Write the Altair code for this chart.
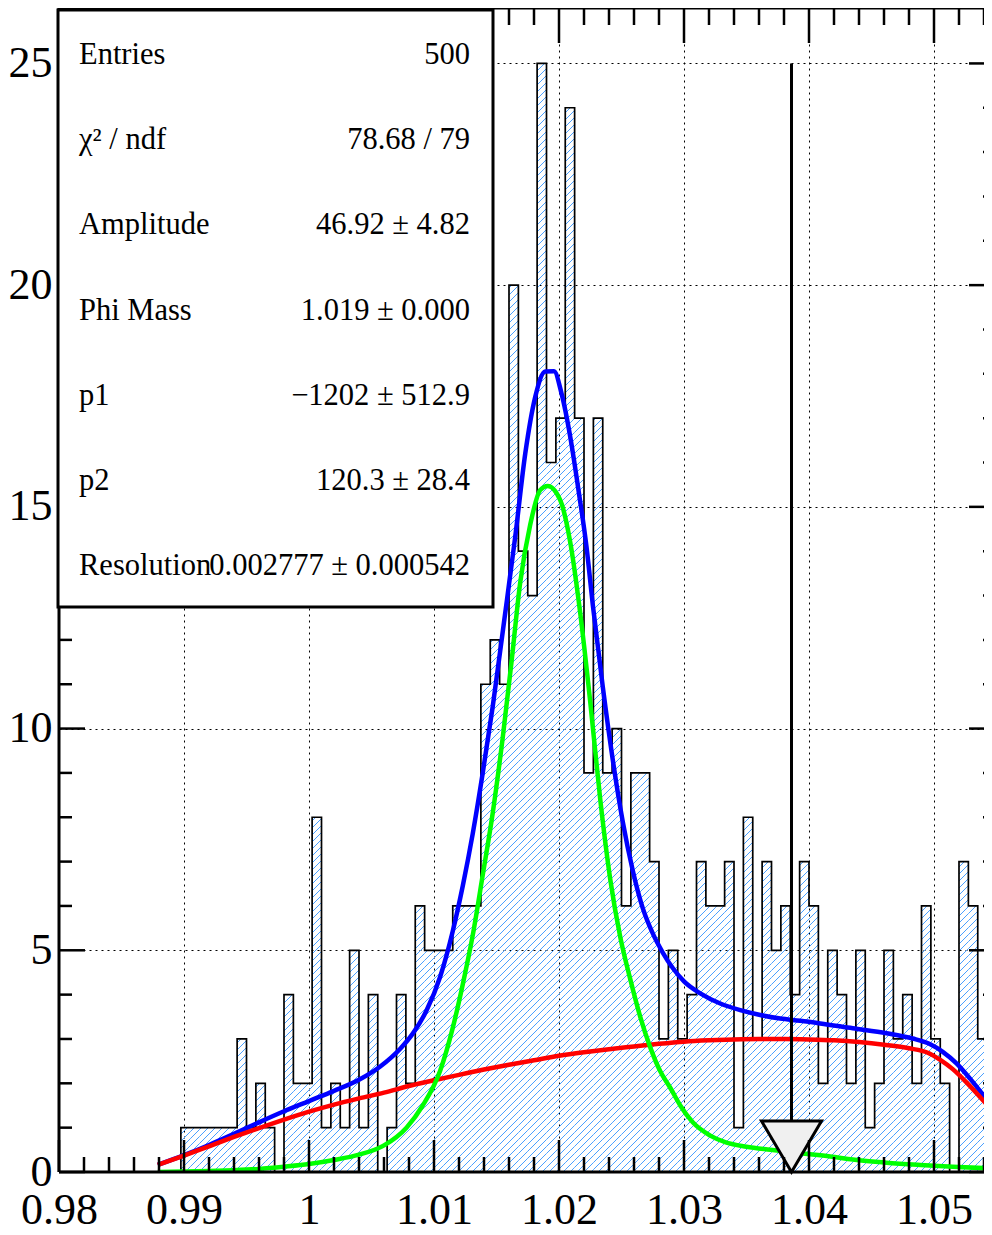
import altair as alt
import numpy as np
import pandas as pd

# ---------------- data ----------------
hist_xmin = 0.98
hist_xmax = 1.055
hist_nbins = 100
first_filled_bin = 13
bin_counts = [1, 1, 1, 1, 1, 1, 3, 1, 2, 1,
              0, 4, 2, 2, 8, 1, 2, 1, 5, 1,
              4, 0, 1, 4, 2, 6, 5, 5, 5, 6,
              6, 6, 11, 12, 11, 20, 14, 13, 25, 16,
              17, 24, 17, 9, 17, 9, 10, 6, 9, 9,
              7, 3, 5, 3, 4, 7, 6, 6, 7, 1,
              8, 3, 7, 5, 6, 4, 7, 6, 2, 5,
              4, 2, 5, 1, 2, 5, 3, 4, 2, 6,
              3, 2, 0, 7, 6, 3, 5]

blue_x = [0.9879, 0.9900, 0.9920, 0.9940, 0.9960, 0.9980, 1.0000, 1.0020, 1.0040, 1.0057,
          1.0073, 1.0083, 1.0094, 1.0105, 1.0115, 1.0123, 1.0131, 1.0139, 1.0147, 1.0156,
          1.0165, 1.0173, 1.0181, 1.0189, 1.0196, 1.0202, 1.0209, 1.0216, 1.0222, 1.0227,
          1.0235, 1.0243, 1.0251, 1.0259, 1.0267, 1.0275, 1.0283, 1.0291, 1.0300, 1.0313,
          1.0329, 1.0345, 1.0361, 1.0377, 1.0393, 1.0409, 1.0435, 1.0462, 1.0483, 1.0497,
          1.0507, 1.0518, 1.0529, 1.0539, 1.0546]
blue_y = [0.16, 0.38, 0.61, 0.86, 1.12, 1.37, 1.60, 1.83, 2.08, 2.38,
          2.78, 3.12, 3.64, 4.41, 5.43, 6.45, 7.63, 9.0, 10.5, 12.4,
          14.33, 16.2, 17.48, 18.05, 18.06, 17.56, 16.58, 15.3, 14.1, 12.8,
          10.95, 9.3, 7.9, 6.8, 5.95, 5.38, 4.95, 4.6, 4.3, 4.03,
          3.80, 3.65, 3.54, 3.46, 3.41, 3.35, 3.24, 3.13, 3.01, 2.88,
          2.71, 2.45, 2.10, 1.75, 1.50]

red_x = [0.9879, 0.990, 0.992, 0.994, 0.996, 0.998, 1.000, 1.002, 1.004, 1.006,
         1.008, 1.010, 1.012, 1.014, 1.016, 1.018, 1.020, 1.022, 1.024, 1.026,
         1.028, 1.030, 1.032, 1.034, 1.036, 1.038, 1.040, 1.042, 1.044, 1.046,
         1.048, 1.0495, 1.0505, 1.0515, 1.0525, 1.0535, 1.0546]
red_y = [0.16, 0.37, 0.58, 0.79, 0.99, 1.18, 1.36, 1.52, 1.66, 1.79,
         1.94, 2.07, 2.19, 2.31, 2.42, 2.52, 2.62, 2.70, 2.77, 2.83,
         2.89, 2.94, 2.97, 2.99, 3.0, 3.0, 2.99, 2.97, 2.93, 2.87,
         2.79, 2.69, 2.53, 2.32, 2.05, 1.75, 1.40]

green_x = [0.9879, 0.9900, 0.9920, 0.9940, 0.9960, 0.9980, 1.0000, 1.0020, 1.0040, 1.0060,
           1.0078, 1.0091, 1.0105, 1.0115, 1.0123, 1.0131, 1.0139, 1.0147, 1.0155, 1.0162,
           1.0169, 1.0177, 1.0185, 1.0191, 1.0201, 1.0209, 1.0217, 1.0225, 1.0233, 1.0241,
           1.0249, 1.0257, 1.0265, 1.0273, 1.0281, 1.0289, 1.0297, 1.0307, 1.0321, 1.0334,
           1.0350, 1.0369, 1.0387, 1.0401, 1.0417, 1.0435, 1.0462, 1.0489, 1.0515, 1.0546]
green_y = [0.0, 0.01, 0.02, 0.04, 0.07, 0.12, 0.18, 0.27, 0.39, 0.60,
           1.0, 1.5, 2.29, 3.25, 4.23, 5.34, 6.7, 8.1, 9.8, 11.5,
           13.3, 14.6, 15.38, 15.47, 15.15, 14.2, 12.6, 10.6, 8.4, 6.6,
           5.3, 4.35, 3.5, 2.81, 2.27, 1.90, 1.50, 1.12, 0.82, 0.66,
           0.57, 0.50, 0.44, 0.40, 0.35, 0.28, 0.21, 0.16, 0.12, 0.08]

stat_labels = ["Entries", "\u03c7\u00b2 / ndf", "Amplitude", "Phi Mass", "p1", "p2", "Resolution"]
stat_values = ["500", "78.68 / 79", "46.92 \u00b1 4.82", "1.019 \u00b1 0.000",
               "\u22121202 \u00b1 512.9", "120.3 \u00b1 28.4", "0.002777 \u00b1 0.000542"]

x_label_values = [0.98, 0.99, 1.00, 1.01, 1.02, 1.03, 1.04, 1.05]
y_label_values = [0, 5, 10, 15, 20, 25]

arrow_x = 1.0386
arrow_top = 25

# ---------------- layout / style ----------------
W, H = 933, 1164
PX_PER_X = 12500.0
X_DOMAIN = [0.98, 0.98 + W / PX_PER_X]
Y_DOMAIN = [0, 26.25]
PX_PER_Y = H / (Y_DOMAIN[1] - Y_DOMAIN[0])
FONT = "Liberation Serif"
HATCH_COLOR = "#4aa0ff"
HATCH_STEP = 7.0  # px, horizontal distance between hatch lines

xs = alt.Scale(domain=X_DOMAIN, nice=False, zero=False)
ys = alt.Scale(domain=Y_DOMAIN, nice=False, zero=False)

x_axis = alt.Axis(values=x_label_values, format=".2~f", grid=True, gridColor="black",
                  gridDash=[2, 4], gridWidth=1, gridOpacity=1, ticks=False, tickSize=0,
                  domain=False, labelFont=FONT, labelFontSize=44, labelColor="black",
                  labelPadding=16, labelFlush=False, labelOverlap=False, title=None)
y_axis = alt.Axis(values=y_label_values, format="d", grid=True, gridColor="black",
                  gridDash=[2, 4], gridWidth=1, gridOpacity=1, ticks=False, tickSize=0,
                  domain=False, labelFont=FONT, labelFontSize=44, labelColor="black",
                  labelPadding=7, labelFlush=False, labelOverlap=False, title=None)


def XQ(f="x"):
    return alt.X(f + ":Q", scale=xs, axis=x_axis)


def YQ(f="y"):
    return alt.Y(f + ":Q", scale=ys, axis=y_axis)


# ---------------- derived tables ----------------
bw = (hist_xmax - hist_xmin) / hist_nbins
edges = [hist_xmin + i * bw for i in range(hist_nbins + 1)]

ox, oy = [edges[first_filled_bin]], [0]
for j, c in enumerate(bin_counts):
    ox.append(edges[first_filled_bin + j])
    oy.append(c)
ox.append(edges[first_filled_bin + len(bin_counts)])
oy.append(0)
outline_df = pd.DataFrame({"x": ox, "y": oy, "i": range(len(ox))})

hx, hy, hx2, hy2 = [], [], [], []
for j, c in enumerate(bin_counts):
    if c <= 0:
        continue
    v0 = (edges[first_filled_bin + j] - X_DOMAIN[0]) * PX_PER_X
    v1 = (edges[first_filled_bin + j + 1] - X_DOMAIN[0]) * PX_PER_X
    hh = c * PX_PER_Y
    cc = np.floor((v0 - hh) / HATCH_STEP) * HATCH_STEP
    while cc <= v1:
        va = max(v0, cc)
        vb = min(v1, cc + hh)
        if vb - va > 0.3:
            hx.append(X_DOMAIN[0] + va / PX_PER_X)
            hx2.append(X_DOMAIN[0] + vb / PX_PER_X)
            hy.append((va - cc) / PX_PER_Y)
            hy2.append((vb - cc) / PX_PER_Y)
        cc += HATCH_STEP
hatch_df = pd.DataFrame({"x": hx, "x2": hx2, "y": hy, "y2": hy2})

one = pd.DataFrame({"k": [0]})

layers = []

layers.append(alt.Chart(hatch_df).mark_rule(stroke=HATCH_COLOR, color=HATCH_COLOR,
                                            strokeWidth=1, opacity=1, clip=True).encode(
    x=XQ(), x2="x2:Q", y=YQ(), y2="y2:Q"))

layers.append(alt.Chart(outline_df).mark_line(color="black", strokeWidth=1.7,
                                              interpolate="step-after", clip=True).encode(
    x=XQ(), y=YQ(), order="i:Q"))

for cx, cy, col in [(blue_x, blue_y, "#0000ff"), (red_x, red_y, "#ff0000"),
                    (green_x, green_y, "#00ff00")]:
    d = pd.DataFrame({"x": cx, "y": cy})
    layers.append(alt.Chart(d).mark_line(color=col, strokeWidth=4.5, interpolate="monotone",
                                         clip=True).encode(x=XQ(), y=YQ()))

# arrow
arrow_df = pd.DataFrame({"x": [arrow_x], "y": [0], "y2": [arrow_top]})
layers.append(alt.Chart(arrow_df).mark_rule(color="black", strokeWidth=3).encode(
    x=XQ(), y=YQ(), y2="y2:Q"))
layers.append(alt.Chart(arrow_df).mark_point(shape="M-1,-1.7L1,-1.7L0,0Z", size=3600,
                                             filled=True, fill="#f0f0f0", stroke="black",
                                             strokeWidth=3, opacity=1).encode(
    x=XQ(), y=YQ()))

# ticks (inside, on all four sides)
x_major = x_label_values
x_minor = [round(v, 4) for v in np.arange(0.982, X_DOMAIN[1], 0.002)
           if abs(v * 100 - round(v * 100)) > 1e-6]
y_major = y_label_values
y_minor = [v for v in range(1, 27) if v % 5 != 0]


def xticks(vals, y0, y1):
    return alt.Chart(pd.DataFrame({"x": vals})).mark_rule(color="black", strokeWidth=2.5).encode(
        x=XQ(), y=alt.value(y0), y2=alt.value(y1))


def yticks(vals, x0, x1):
    return alt.Chart(pd.DataFrame({"y": vals})).mark_rule(color="black", strokeWidth=2.5).encode(
        y=YQ(), x=alt.value(x0), x2=alt.value(x1))


layers += [xticks(x_major, H, H - 32), xticks(x_minor, H, H - 15),
           xticks(x_major, 0, 35), xticks(x_minor, 0, 17),
           yticks(y_major, 0, 26), yticks(y_minor, 0, 13),
           yticks(y_major, W + 4, W - 23), yticks(y_minor, W + 4, W - 9)]

# frame (left, top, bottom)
for enc in [dict(x=alt.value(0), x2=alt.value(W), y=alt.value(H)),
            dict(x=alt.value(0), x2=alt.value(W), y=alt.value(0)),
            dict(y=alt.value(0), y2=alt.value(H), x=alt.value(0))]:
    layers.append(alt.Chart(one).mark_rule(color="black", strokeWidth=3).encode(**enc))

# stats box
layers.append(alt.Chart(one).mark_rect(fill="white", stroke="black", strokeWidth=3).encode(
    x=alt.value(-1), x2=alt.value(434), y=alt.value(2), y2=alt.value(599)))
row_y0, row_dy = 47, 85.2
for i, (lab, val) in enumerate(zip(stat_labels, stat_values)):
    yy = row_y0 + i * row_dy
    layers.append(alt.Chart(pd.DataFrame({"t": [lab]})).mark_text(
        font=FONT, fontSize=30.5, align="left", baseline="middle", color="black").encode(
        text="t:N", x=alt.value(20), y=alt.value(yy)))
    layers.append(alt.Chart(pd.DataFrame({"t": [val]})).mark_text(
        font=FONT, fontSize=30.5, align="right", baseline="middle", color="black").encode(
        text="t:N", x=alt.value(411), y=alt.value(yy)))

chart = alt.layer(*layers).properties(
    width=W, height=H,
    padding={"left": 51, "top": 0, "right": -8, "bottom": 58},
    autosize=alt.AutoSizeParams(type="none"),
    background="white",
).configure_view(stroke=None)

chart.save("out.html", embed_options={"renderer": "svg", "actions": False})
